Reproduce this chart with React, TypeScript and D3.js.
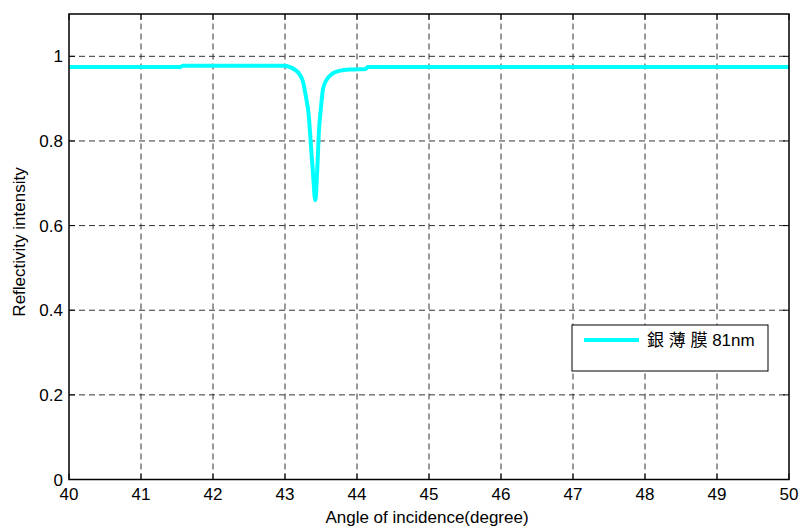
import * as d3 from "d3";

// reflectivity curve
const angles = [40, 41.55, 41.58, 43.0, 43.08, 43.14, 43.2, 43.25, 43.29, 43.33, 43.36, 43.39, 43.42, 43.45, 43.47, 43.5, 43.53, 43.58, 43.65, 43.72, 43.8, 43.95, 44.12, 44.15, 50];
const reflectivity = [0.975, 0.975, 0.978, 0.978, 0.974, 0.968, 0.958, 0.94, 0.905, 0.86, 0.79, 0.72, 0.66, 0.74, 0.82, 0.88, 0.925, 0.945, 0.958, 0.964, 0.967, 0.969, 0.97, 0.975, 0.975];
const xTicks = [40, 41, 42, 43, 44, 45, 46, 47, 48, 49, 50];
const yTicks = [0, 0.2, 0.4, 0.6, 0.8, 1];
const legendLabel = "銀 薄 膜 81nm";

const W = 800;
const H = 528;
const m = { left: 69, right: 11, top: 14, bottom: 48.5 };

export default function App() {
  const x = d3.scaleLinear().domain([40, 50]).range([m.left, W - m.right]);
  const y = d3.scaleLinear().domain([0, 1.1]).range([H - m.bottom, m.top]);
  const pts = angles.map((a, i) => [a, reflectivity[i]] as [number, number]);
  const line = d3
    .line<[number, number]>()
    .x((d) => x(d[0]))
    .y((d) => y(d[1]))
    .curve(d3.curveMonotoneX);
  const x0 = x(40), x1 = x(50), y0 = y(0), y1 = y(1.1);
  const font = "Arial, 'Liberation Sans', 'Noto Sans CJK TC', sans-serif";
  return (
    <svg width={W} height={H} style={{ position: "absolute", left: 0, top: 0, background: "#fff" }} fontFamily={font}>
      <rect x={0} y={0} width={W} height={H} fill="#fff" />
      {/* grid */}
      <g stroke="#333" strokeWidth={1} strokeDasharray="6,4">
        {xTicks.slice(1, -1).map((t) => (
          <line key={"gx" + t} x1={x(t)} x2={x(t)} y1={y0} y2={y1} />
        ))}
        {yTicks.slice(1).map((t) => (
          <line key={"gy" + t} x1={x0} x2={x1} y1={y(t)} y2={y(t)} />
        ))}
      </g>
      {/* ticks */}
      <g stroke="#000" strokeWidth={1}>
        {xTicks.map((t) => (
          <g key={"tx" + t}>
            <line x1={x(t)} x2={x(t)} y1={y0} y2={y0 - 6} />
            <line x1={x(t)} x2={x(t)} y1={y1} y2={y1 + 6} />
          </g>
        ))}
        {yTicks.map((t) => (
          <g key={"ty" + t}>
            <line x1={x0} x2={x0 + 6} y1={y(t)} y2={y(t)} />
            <line x1={x1} x2={x1 - 6} y1={y(t)} y2={y(t)} />
          </g>
        ))}
      </g>
      <path d={line(pts) ?? ""} fill="none" stroke="#00ffff" strokeWidth={4} strokeLinejoin="round" />
      <rect x={x0} y={y1} width={x1 - x0} height={y0 - y1} fill="none" stroke="#000" strokeWidth={1.5} />
      {/* tick labels */}
      <g fontSize={17} fill="#000">
        {xTicks.map((t) => (
          <text key={"lx" + t} x={x(t)} y={y0 + 20} textAnchor="middle">{t}</text>
        ))}
        {yTicks.map((t) => (
          <text key={"ly" + t} x={x0 - 6} y={y(t) + 6} textAnchor="end">{t}</text>
        ))}
      </g>
      <text x={427} y={H - 5} textAnchor="middle" fontSize={17}>Angle of incidence(degree)</text>
      <text transform={`translate(25,242) rotate(-90)`} textAnchor="middle" fontSize={17}>Reflectivity intensity</text>
      {/* legend */}
      <g>
        <rect x={572} y={325} width={196} height={46} fill="#fff" stroke="#000" strokeWidth={1} />
        <line x1={584} x2={639} y1={340} y2={340} stroke="#00ffff" strokeWidth={4} />
        <text x={647} y={346} fontSize={17}>{legendLabel}</text>
      </g>
    </svg>
  );
}
